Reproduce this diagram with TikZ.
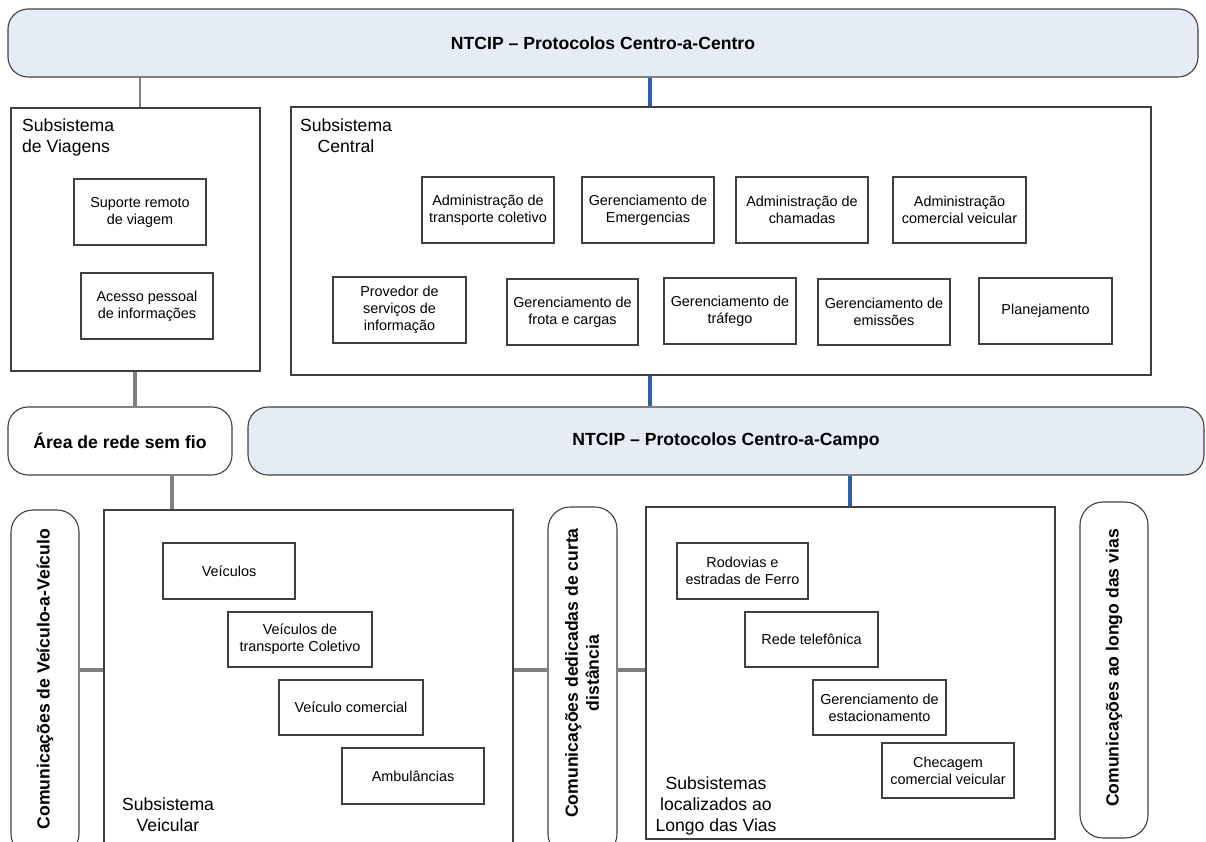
\documentclass[tikz,border=0pt]{standalone}
\usepackage{fontspec}
\setmainfont{Liberation Sans}
\usetikzlibrary{fit}
\definecolor{barfill}{HTML}{E6ECF6}
\definecolor{edge}{HTML}{404040}
\definecolor{linkblue}{HTML}{2E60AA}
\definecolor{linkgray}{HTML}{7F7F7F}
\tikzset{
  boxline/.style={draw=edge, line width=1.1pt, inner sep=0pt, fill=white},
  ibox/.style={boxline, align=center, minimum width=132pt, minimum height=66pt,
    font=\fontsize{14.4}{17}\selectfont},
  pill/.style={boxline, rounded corners=20pt},
  bar/.style={pill, fill=barfill, minimum height=68pt, font=\fontsize{17.6}{21}\selectfont\bfseries},
  vtext/.style={rotate=90, align=center, inner sep=0pt, font=\fontsize{17.6}{21}\selectfont\bfseries},
  lbl/.style={inner sep=0pt, font=\fontsize{17.6}{21}\selectfont},
  thin link/.style={draw=linkgray, line width=2pt},
  gray link/.style={draw=linkgray, line width=4.5pt},
  blue link/.style={draw=linkblue, line width=4pt},
}
\begin{document}
\begin{tikzpicture}[x=1pt, y=-1pt]
\useasboundingbox (0,0) rectangle (1206,841);
\clip (0,0) rectangle (1206,841);

% x / y guides for the connectors
\coordinate (x135) at (135,0);
\coordinate (x140) at (140,0);
\coordinate (x172) at (172,0);
\coordinate (x650) at (650,0);
\coordinate (x850) at (850,0);
\coordinate (y670) at (0,670);

% protocol bars
\node[bar, minimum width=1190pt] (c2c) at (603,43) {NTCIP – Protocolos Centro-a-Centro};
\node[bar, minimum width=956pt] (c2f) at (726,441) {NTCIP – Protocolos Centro-a-Campo};
\node[bar, fill=white, minimum width=224pt] (wan) at (120,441) {Área de rede sem fio};

% travel subsystem
\node[boxline, fit={(11,108) (260,371)}] (viagens) {};
\node[lbl, anchor=north west, align=left] (lviagens) at (22,119) {Subsistema\\de Viagens};
\node[ibox] (suporte) at (140,212) {Suporte remoto\\de viagem};
\node[ibox] (acesso) at (147,306) {Acesso pessoal\\de informações};

% centre subsystem
\node[boxline, fit={(291,107) (1151,375)}] (central) {};
\node[lbl, anchor=north, align=center] (lcentral) at (346,119) {Subsistema\\Central};
\node[ibox] (admtc) at (488,210) {Administração de\\transporte coletivo};
\node[ibox] (emerg) at (648,210) {Gerenciamento de\\Emergencias};
\node[ibox] (chamadas) at (802,210) {Administração de\\chamadas};
\node[ibox, minimum width=133pt] (admcv) at (959.5,210) {Administração\\comercial veicular};
\node[ibox, minimum width=133pt] (provedor) at (399.5,310) {Provedor de\\serviços de\\informação};
\node[ibox, minimum width=131pt] (frota) at (572.5,312) {Gerenciamento de\\frota e cargas};
\node[ibox] (trafego) at (730,311) {Gerenciamento de\\tráfego};
\node[ibox] (emissoes) at (884,312) {Gerenciamento de\\emissões};
\node[ibox, minimum width=133pt] (planej) at (1045.5,311) {Planejamento};

% vehicle subsystem
\node[pill, fit={(11,510) (79,856)}, rounded corners=22pt] (v2v) {};
\node[vtext] (tv2v) at (45,679) {Comunicações de Veículo-a-Veículo};
\node[boxline, fit={(104,510) (513,870)}] (veicular) {};
\node[lbl, anchor=south, align=center] (lveicular) at (168,832) {Subsistema\\Veicular};
\node[ibox, minimum height=56pt] (veic) at (229,571) {Veículos};
\node[ibox, minimum width=144pt, minimum height=55pt] (coletivo) at (300,639.5) {Veículos de\\transporte Coletivo};
\node[ibox, minimum width=144pt, minimum height=55pt] (comercial) at (351,707.5) {Veículo comercial};
\node[ibox, minimum width=142pt, minimum height=56pt] (ambul) at (413,776) {Ambulâncias};

% short range communications
\node[pill, fit={(548,507) (617,856)}, rounded corners=22pt] (dsrc) {};
\node[vtext] (tdsrc) at (582,673) {Comunicações dedicadas de curta\\distância};

% roadside subsystem
\node[boxline, fit={(646,507) (1055,839)}] (vias) {};
\node[lbl, anchor=south, align=center] (lvias) at (716,835.7) {Subsistemas\\localizados ao\\Longo das Vias};
\node[ibox, minimum width=131pt, minimum height=56pt] (rodovias) at (742.5,571) {Rodovias e\\estradas de Ferro};
\node[ibox, minimum width=133pt, minimum height=55pt] (rede) at (811.5,639.5) {Rede telefônica};
\node[ibox, minimum width=133pt, minimum height=55pt] (estac) at (879.5,707.5) {Gerenciamento de\\estacionamento};
\node[ibox, minimum height=55pt] (checagem) at (948,770.5) {Checagem\\comercial veicular};

% roadside communications
\node[pill, fit={(1080,502) (1148,838)}, rounded corners=23pt] (roadcom) {};
\node[vtext] (troadcom) at (1114,668) {Comunicações ao longo das vias};

% connectors
\draw[thin link] (c2c.south -| x140) -- (viagens.north -| x140);
\draw[blue link] (c2c.south -| x650) -- (central.north -| x650);
\draw[gray link] (viagens.south -| x135) -- (wan.north -| x135);
\draw[blue link] (central.south -| x650) -- (c2f.north -| x650);
\draw[gray link] (wan.south -| x172) -- (veicular.north -| x172);
\draw[blue link] (c2f.south -| x850) -- (vias.north -| x850);
\draw[gray link] (v2v.east |- y670) -- (veicular.west |- y670);
\draw[gray link] (veicular.east |- y670) -- (dsrc.west |- y670);
\draw[gray link] (dsrc.east |- y670) -- (vias.west |- y670);
\end{tikzpicture}
\end{document}
